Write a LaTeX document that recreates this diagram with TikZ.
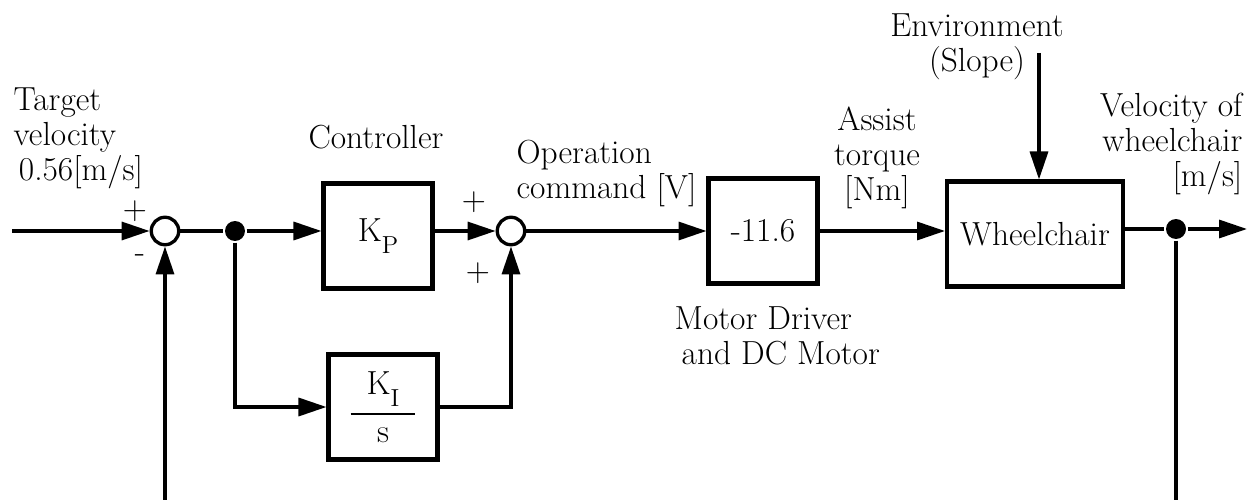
\documentclass[tikz,border=0pt]{standalone}
\usepackage{amsmath}
\usetikzlibrary{arrows.meta}
\newcommand{\lowsub}[1]{\raisebox{-7pt}{\fontsize{14}{15}\selectfont #1}}

\begin{document}
\begin{tikzpicture}[x=0.02cm, y=-0.02cm, line width=1.9pt,
  font=\fontsize{19}{20}\selectfont,
  >={Triangle[length=0.56cm,width=0.36cm]},
  block/.style={draw, line width=2.3pt, minimum width=2.18cm, minimum height=2.1cm, inner sep=0pt},
  sum/.style={draw, circle, fill=white, minimum size=0.55cm, inner sep=0pt},
  dot/.style={circle, fill, minimum size=0.4cm, inner sep=0pt},
  lbl/.style={inner sep=0pt}]
\useasboundingbox (0,0) rectangle (1249,500);
% blocks
\node[sum] (s1) at (165,231) {};
\node[dot] (j1) at (235,231) {};
\node[block] (kp) at (378,236) {K\lowsub{P}};
\node[block] (ki) at (383,407) {$\displaystyle\genfrac{}{}{1.1pt}{0}{\hbox to 1.3cm{\hss K\lowsub{I}\hss}}{\hbox{s}}$};
\node[sum] (s2) at (511,231) {};
\node[block] (mot) at (763,231) {-11.6};
\node[block, minimum width=3.52cm] (wc) at (1035,234) {Wheelchair};
\node[dot] (j2) at (1176,229) {};
% free ends
\coordinate (in) at (12,231);
\coordinate (out) at (1247,229);
\coordinate (env) at (1039,53);
\coordinate (fb1) at (165,500);
\coordinate (fb2) at (1176,500);
% labels
\node[lbl, align=left, anchor=north west] (tgt) at (12,86) {Target\\velocity\\\hspace*{3pt}0.56[m/s]};
\node[lbl] (p1) at (135,211) {+};
\node[lbl] (m1) at (140,259) {-};
\node[lbl, anchor=base] (ctl) at (376,149) {Controller};
\node[lbl] (p2) at (474,202) {+};
\node[lbl] (p3) at (478,273) {+};
\node[lbl, align=left, anchor=north west] (opcmd) at (515,138) {Operation\\command [V]};
\node[lbl, align=center, anchor=north] (torque) at (877,105) {Assist\\torque\\{}[Nm]};
\node[lbl, align=left, anchor=north west] (motlbl) at (673,305) {Motor Driver\\\hspace*{4pt}and DC Motor};
\node[lbl, align=center, anchor=north] (envlbl) at (977,12) {Environment\\(Slope)};
\node[lbl, align=right, anchor=north east] (vel) at (1244,91) {Velocity of\\wheelchair\\{}[m/s]};
% connectors
\draw[->] (in) -- (s1);
\draw (s1) -- (j1);
\draw[->] (j1) -- (j1 -| kp.west);
\draw[->] (kp.east |- s2) -- (s2);
\draw[->] (j1) |- (ki);
\draw[->] (ki) -| (s2);
\draw[->] (s2) -- (mot);
\draw[->] (mot) -- (mot -| wc.west);
\draw[->] (env) -- (env |- wc.north);
\draw (wc.east |- j2) -- (j2);
\draw[->] (j2) -- (out);
\draw (j2) -- (fb2);
\draw[->] (fb1) -- (s1);
\end{tikzpicture}
\end{document}
